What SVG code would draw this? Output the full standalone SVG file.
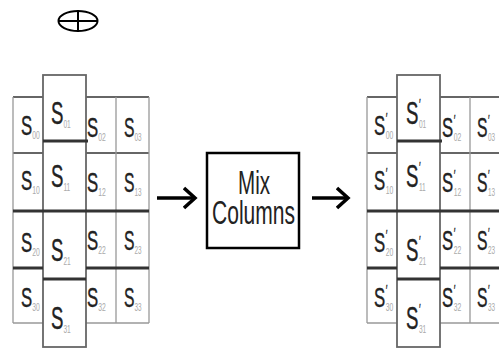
<svg xmlns="http://www.w3.org/2000/svg" width="499" height="349" viewBox="0 0 499 349">
  <style>
    .s { font-family: "Liberation Sans", Arial, sans-serif; fill: #222; stroke: #222; stroke-width: 0.4; font-size: 27px; }
    .b { font-size: 31px; }
    .sub { fill: #aaa; stroke: none; font-size: 11px; }
    .pr { font-size: 15px; stroke-width: 0.3; }
    .lbl { font-family: "Liberation Sans", Arial, sans-serif; fill: #222; font-size: 34px; text-anchor: middle; }
    .thin { stroke: #999; stroke-width: 1.3; fill: none; }
    .mid { stroke: #666; stroke-width: 1.8; fill: none; }
    .thick { stroke: #333; stroke-width: 3; fill: none; }
    .arrow { stroke: #000; stroke-width: 3.5; fill: none; }
  </style>
  <defs>
    <marker id="chev" markerUnits="userSpaceOnUse" markerWidth="16" markerHeight="24" viewBox="0 0 16 24" refX="12" refY="12" orient="auto">
      <path d="M1,2 L12,12 L1,22" stroke="#000" stroke-width="3.5" fill="none"/>
    </marker>
  </defs>
  <rect width="499" height="349" fill="#fff"/>

  <!-- XOR symbol -->
  <g id="xor-symbol" stroke="#000" stroke-width="2" fill="none">
    <ellipse cx="78" cy="21" rx="19.5" ry="10"/>
    <line x1="58.5" y1="21" x2="97.5" y2="21"/>
    <line x1="78" y1="11" x2="78" y2="31"/>
  </g>

  <!-- Input state matrix -->
  <g id="state-in">
    <g id="state-in-grid">
      <path class="mid" d="M13,97 H43 M86,97 H149 M13,153 H43 M86,153 H149"/>
      <path class="thin" d="M13,323 H43 M86,323 H149 M13,97 V323 M116,97 V323 M149,97 V323"/>
      <rect class="mid" x="43" y="75" width="43" height="272"/>
      <path class="thick" d="M43,141 H88 M13,211 H149 M13,268 H43 M86,268 H149 M43,279 H86"/>
    </g>
    <g id="state-in-cells">
      <text class="s" transform="translate(21,135) scale(0.62,1)">S<tspan class="sub" dy="4">00</tspan></text>
      <text class="s b" transform="translate(51,124) scale(0.6,1)">S<tspan class="sub" dy="4">01</tspan></text>
      <text class="s" transform="translate(87,137) scale(0.62,1)">S<tspan class="sub" dy="4">02</tspan></text>
      <text class="s" transform="translate(124,137) scale(0.58,1)">S<tspan class="sub" dy="4">03</tspan></text>

      <text class="s" transform="translate(21,190) scale(0.62,1)">S<tspan class="sub" dy="4">10</tspan></text>
      <text class="s b" transform="translate(51,187) scale(0.6,1)">S<tspan class="sub" dy="4">11</tspan></text>
      <text class="s" transform="translate(87,192) scale(0.62,1)">S<tspan class="sub" dy="4">12</tspan></text>
      <text class="s" transform="translate(124,192) scale(0.58,1)">S<tspan class="sub" dy="4">13</tspan></text>

      <text class="s" transform="translate(21,252) scale(0.62,1)">S<tspan class="sub" dy="4">20</tspan></text>
      <text class="s b" transform="translate(51,261) scale(0.6,1)">S<tspan class="sub" dy="4">21</tspan></text>
      <text class="s" transform="translate(87,250) scale(0.62,1)">S<tspan class="sub" dy="4">22</tspan></text>
      <text class="s" transform="translate(124,250) scale(0.58,1)">S<tspan class="sub" dy="4">23</tspan></text>

      <text class="s" transform="translate(21,307) scale(0.62,1)">S<tspan class="sub" dy="4">30</tspan></text>
      <text class="s b" transform="translate(51,329) scale(0.6,1)">S<tspan class="sub" dy="4">31</tspan></text>
      <text class="s" transform="translate(87,307) scale(0.62,1)">S<tspan class="sub" dy="4">32</tspan></text>
      <text class="s" transform="translate(124,307) scale(0.58,1)">S<tspan class="sub" dy="4">33</tspan></text>
    </g>
  </g>

  <!-- MixColumns transform -->
  <g id="mix-columns">
    <rect x="207" y="153" width="92" height="95" fill="#fff" stroke="#000" stroke-width="2.5"/>
    <text class="lbl" x="254" y="194" textLength="32" lengthAdjust="spacingAndGlyphs">Mix</text>
    <text class="lbl" x="253.5" y="224" textLength="83" lengthAdjust="spacingAndGlyphs">Columns</text>
  </g>

  <!-- Output state matrix -->
  <g id="state-out">
    <g id="state-out-grid">
      <path class="mid" d="M367,97 H397 M440,97 H503 M367,153 H397 M440,153 H503"/>
      <path class="thin" d="M367,323 H397 M440,323 H503 M367,97 V323 M470,97 V323"/>
      <rect class="mid" x="397" y="75" width="43" height="272"/>
      <path class="thick" d="M397,141 H442 M367,211 H503 M367,268 H397 M440,268 H503 M397,279 H440"/>
    </g>
    <g id="state-out-cells">
      <text class="s" transform="translate(374,135) scale(0.62,1)">S<tspan class="pr" dx="1" dy="-12">′</tspan><tspan class="sub" dx="-3" dy="16">00</tspan></text>
      <text class="s b" transform="translate(406,124) scale(0.6,1)">S<tspan class="pr" dx="1" dy="-15">′</tspan><tspan class="sub" dx="-3" dy="19">01</tspan></text>
      <text class="s" transform="translate(442,137) scale(0.62,1)">S<tspan class="pr" dx="1" dy="-12">′</tspan><tspan class="sub" dx="-3" dy="16">02</tspan></text>
      <text class="s" transform="translate(477,137) scale(0.58,1)">S<tspan class="pr" dx="1" dy="-12">′</tspan><tspan class="sub" dx="-3" dy="16">03</tspan></text>

      <text class="s" transform="translate(374,190) scale(0.62,1)">S<tspan class="pr" dx="1" dy="-12">′</tspan><tspan class="sub" dx="-3" dy="16">10</tspan></text>
      <text class="s b" transform="translate(406,187) scale(0.6,1)">S<tspan class="pr" dx="1" dy="-15">′</tspan><tspan class="sub" dx="-3" dy="19">11</tspan></text>
      <text class="s" transform="translate(442,192) scale(0.62,1)">S<tspan class="pr" dx="1" dy="-12">′</tspan><tspan class="sub" dx="-3" dy="16">12</tspan></text>
      <text class="s" transform="translate(477,192) scale(0.58,1)">S<tspan class="pr" dx="1" dy="-12">′</tspan><tspan class="sub" dx="-3" dy="16">13</tspan></text>

      <text class="s" transform="translate(374,252) scale(0.62,1)">S<tspan class="pr" dx="1" dy="-12">′</tspan><tspan class="sub" dx="-3" dy="16">20</tspan></text>
      <text class="s b" transform="translate(406,261) scale(0.6,1)">S<tspan class="pr" dx="1" dy="-15">′</tspan><tspan class="sub" dx="-3" dy="19">21</tspan></text>
      <text class="s" transform="translate(442,250) scale(0.62,1)">S<tspan class="pr" dx="1" dy="-12">′</tspan><tspan class="sub" dx="-3" dy="16">22</tspan></text>
      <text class="s" transform="translate(477,250) scale(0.58,1)">S<tspan class="pr" dx="1" dy="-12">′</tspan><tspan class="sub" dx="-3" dy="16">23</tspan></text>

      <text class="s" transform="translate(374,307) scale(0.62,1)">S<tspan class="pr" dx="1" dy="-12">′</tspan><tspan class="sub" dx="-3" dy="16">30</tspan></text>
      <text class="s b" transform="translate(406,329) scale(0.6,1)">S<tspan class="pr" dx="1" dy="-15">′</tspan><tspan class="sub" dx="-3" dy="19">31</tspan></text>
      <text class="s" transform="translate(442,307) scale(0.62,1)">S<tspan class="pr" dx="1" dy="-12">′</tspan><tspan class="sub" dx="-3" dy="16">32</tspan></text>
      <text class="s" transform="translate(477,307) scale(0.58,1)">S<tspan class="pr" dx="1" dy="-12">′</tspan><tspan class="sub" dx="-3" dy="16">33</tspan></text>
    </g>
  </g>

  <!-- Connectors -->
  <g id="connectors">
    <line class="arrow" x1="157" y1="198" x2="195" y2="198" marker-end="url(#chev)"/>
    <line class="arrow" x1="312" y1="198" x2="348" y2="198" marker-end="url(#chev)"/>
  </g>
</svg>
